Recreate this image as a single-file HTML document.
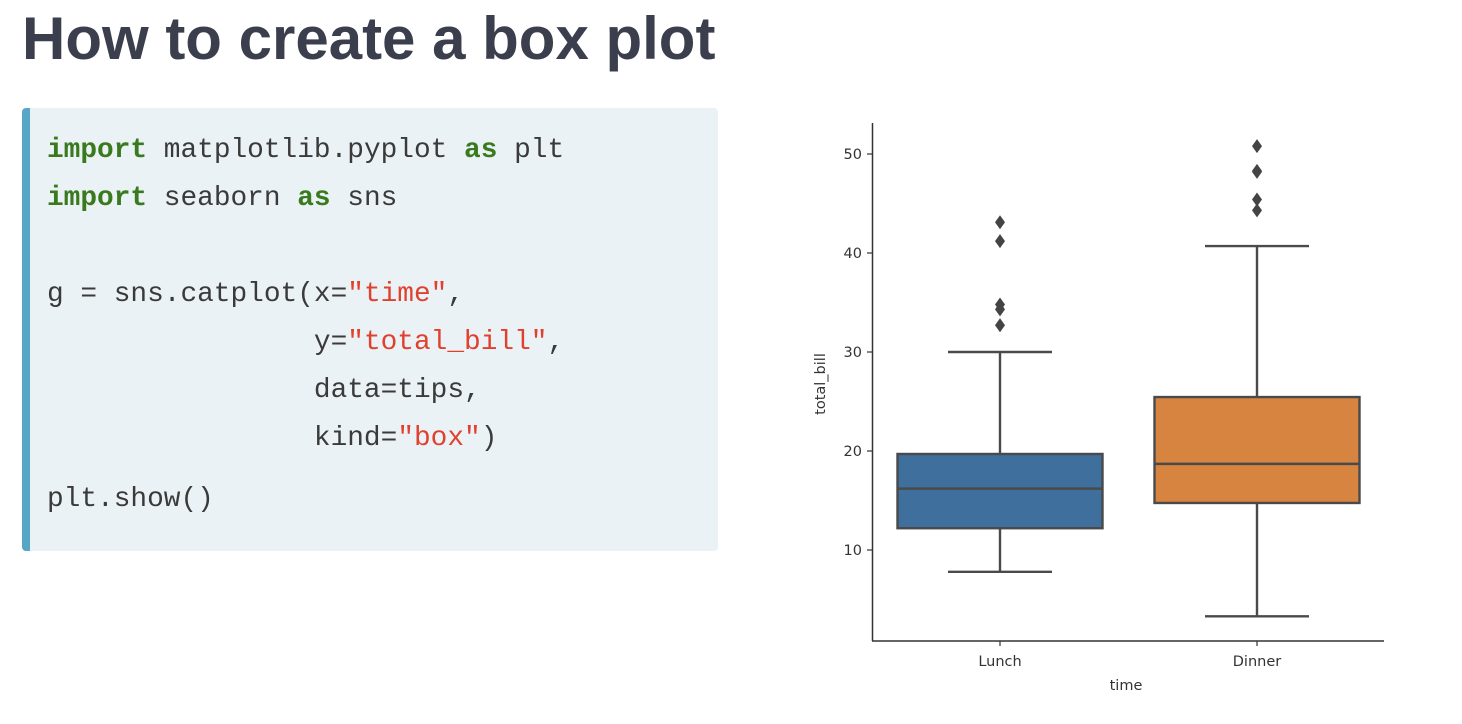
<!DOCTYPE html>
<html><head><meta charset="utf-8"><style>
body{margin:0;width:1462px;height:724px;background:#fff;position:relative;overflow:hidden;font-family:"Liberation Sans",sans-serif}
#title{position:absolute;left:22px;top:4px;font-size:60px;font-weight:bold;color:#3b3e4c;letter-spacing:0px;margin:0;white-space:nowrap}
#code{position:absolute;left:22px;top:108px;width:688px;height:443px;background:#ebf2f6;border-left:8px solid #58a6c6;border-radius:4px}
.ln{position:absolute;left:17px;font-family:"Liberation Mono",monospace;font-size:27.8px;color:#3a3a3a;white-space:pre}
.k{color:#3a7a1e;font-weight:bold}.s{color:#e0412f}
</style></head><body>
<h1 id="title">How to create a box plot</h1>
<div id="code">
<div class="ln" style="top:27px"><span class="k">import</span> matplotlib.pyplot <span class="k">as</span> plt</div>
<div class="ln" style="top:75px"><span class="k">import</span> seaborn <span class="k">as</span> sns</div>
<div class="ln" style="top:171px">g = sns.catplot(x=<span class="s">"time"</span>,</div>
<div class="ln" style="top:219px">                y=<span class="s">"total_bill"</span>,</div>
<div class="ln" style="top:267px">                data=tips,</div>
<div class="ln" style="top:315px">                kind=<span class="s">"box"</span>)</div>
<div class="ln" style="top:376px">plt.show()</div>
</div>
<svg id="chart" width="1462" height="724" style="position:absolute;left:0;top:0"></svg>
<script>
const categories=["Lunch","Dinner"];
const q1=[12.2,14.75];
const medians=[16.2,18.7];
const q3=[19.7,25.45];
const whiskLow=[7.8,3.3];
const whiskHigh=[30.0,40.7];
const outliers=[[43.1,41.2,34.8,34.3,32.7],[50.8,48.3,48.2,45.4,44.3]];
const colors=["#3f6f9c","#d6843f"];
const yTicks=[10,20,30,40,50];
const NS="http://www.w3.org/2000/svg";
const svg=document.getElementById('chart');
const y=v=>550-(v-10)*9.9;
const x=i=>1000+i*257;
const bw=205;
function mk(t,a){const e=document.createElementNS(NS,t);for(const k in a)e.setAttribute(k,a[k]);svg.appendChild(e);return e;}
let e;
e=mk('line',{x1:872.5,y1:123,x2:872.5,y2:641,stroke:'#333','stroke-width':1.5});


e=mk('line',{x1:872,y1:641,x2:1384,y2:641,stroke:'#333','stroke-width':1.5});


yTicks.forEach(t=>{
 e=mk('line',{x1:867,x2:872,y1:y(t),y2:y(t),stroke:'#333','stroke-width':1.2});
 
 
 e=mk('text',{x:862,y:y(t)+5,'text-anchor':'end','font-size':14.5,fill:'#333','font-family':'DejaVu Sans, sans-serif'});
 e.textContent=t;
 
 
});
categories.forEach((c,i)=>{
 const cx=x(i);
 e=mk('line',{x1:cx,x2:cx,y1:641,y2:646,stroke:'#333','stroke-width':1.2});
 
 
 e=mk('text',{x:cx,y:666,'text-anchor':'middle','font-size':14.5,fill:'#333','font-family':'DejaVu Sans, sans-serif'});
 e.textContent=c;
 
 
 const st={stroke:'#4a4a4a','stroke-width':2.4};
 e=mk('line',Object.assign({x1:cx,x2:cx,y1:y(q3[i]),y2:y(whiskHigh[i])},st));
 
 
 e=mk('line',Object.assign({x1:cx,x2:cx,y1:y(q1[i]),y2:y(whiskLow[i])},st));
 
 
 e=mk('line',Object.assign({x1:cx-52,x2:cx+52,y1:y(whiskHigh[i]),y2:y(whiskHigh[i])},st));
 
 
 e=mk('line',Object.assign({x1:cx-52,x2:cx+52,y1:y(whiskLow[i]),y2:y(whiskLow[i])},st));
 
 
 e=mk('rect',Object.assign({x:cx-bw/2,width:bw,y:y(q3[i]),height:y(q1[i])-y(q3[i]),fill:colors[i]},st));
 
 
 e=mk('line',Object.assign({x1:cx-bw/2,x2:cx+bw/2,y1:y(medians[i]),y2:y(medians[i])},st));
 
 
 outliers[i].forEach(v=>{
  const py=y(v);
  e=mk('polygon',{points:`${cx},${py-7} ${cx+5},${py} ${cx},${py+7} ${cx-5},${py}`,fill:'#444'});
  
  
 });
});
e=mk('text',{x:1126,y:690,'text-anchor':'middle','font-size':14.5,fill:'#333','font-family':'DejaVu Sans, sans-serif'});
e.textContent='time';


e=mk('text',{x:0,y:0,'text-anchor':'middle','font-size':14.5,fill:'#333','font-family':'DejaVu Sans, sans-serif',transform:'translate(825,384) rotate(-90)'});
e.textContent='total_bill';


</script>
</body></html>
